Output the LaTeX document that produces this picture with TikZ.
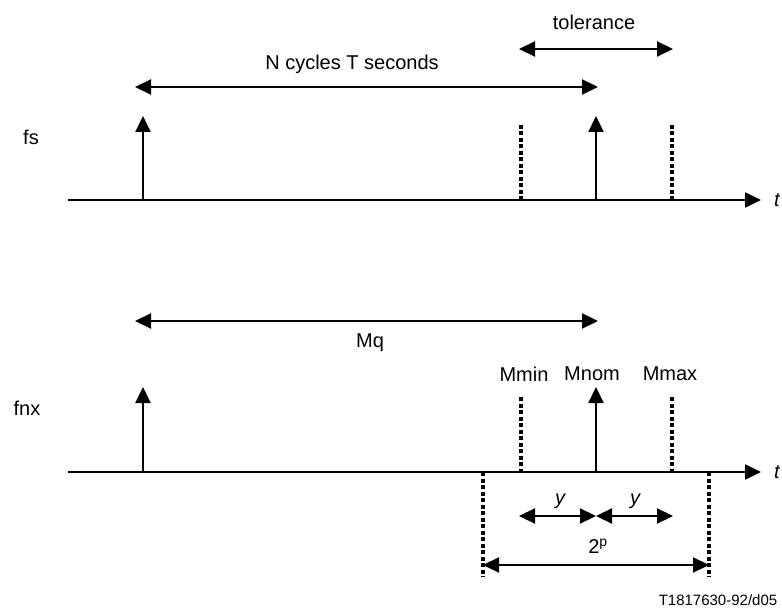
\documentclass[tikz,border=0pt]{standalone}
\usepackage{fontspec}
\setmainfont{Liberation Sans}
\usetikzlibrary{arrows.meta}
\begin{document}
\begin{tikzpicture}[x=1pt, y=-1pt,
    every node/.style = {font=\fontsize{20}{24}\selectfont, inner sep=0pt},
    line/.style = {line width=2.2pt},
    tip/.style = {-{Triangle[length=16pt,width=15pt]}},
    both/.style = {{Triangle[length=16pt,width=15pt]}-{Triangle[length=16pt,width=15pt]}},
    dots/.style = {line width=3.5pt, dash pattern=on 4pt off 2.5pt}]
  \useasboundingbox (0,0) rectangle (782,612);
  % upper line: fs
  \node (fs) at (31,137) {fs};
  \coordinate (a0) at (68,200);
  \coordinate (a1) at (761,200);
  \node (t1) at (777,200) {\itshape t};
  \draw[line,tip] (a0) -- (a1);
  \draw[line,tip] (143,200) -- (143,116);
  \draw[line,tip] (596,200) -- (596,116);
  \draw[dots] (521,125) -- (521,200);
  \draw[dots] (672,125) -- (672,200);
  \coordinate (n0) at (135,87);
  \coordinate (n1) at (598,87);
  \draw[line,both] (n0) -- (n1);
  \node (ncyc) at (352,64) {N cycles T seconds};
  \coordinate (tol0) at (519,49);
  \coordinate (tol1) at (673,49);
  \draw[line,both] (tol0) -- (tol1);
  \node (tol) at (594,22) {tolerance};
  % lower line: fnx
  \node (fnx) at (27,408) {fnx};
  \coordinate (b0) at (68,472);
  \coordinate (b1) at (761,472);
  \node (t2) at (777,472) {\itshape t};
  \draw[line,tip] (b0) -- (b1);
  \draw[line,tip] (143,472) -- (143,387);
  \draw[line,tip] (596,472) -- (596,387);
  \draw[dots] (521,397) -- (521,472);
  \draw[dots] (672,397) -- (672,472);
  \draw[dots] (483,472) -- (483,577);
  \draw[dots] (709,472) -- (709,577);
  \coordinate (m0) at (135,321);
  \coordinate (m1) at (598,321);
  \draw[line,both] (m0) -- (m1);
  \node (mq) at (370,343) {Mq};
  \node (mmin) at (524,374) {Mmin};
  \node (mnom) at (592,374) {Mnom};
  \node (mmax) at (670,374) {Mmax};
  \coordinate (y0) at (519,516);
  \coordinate (y1) at (596,516);
  \coordinate (y2) at (673,516);
  \draw[line,both] (y0) -- (y1);
  \draw[line,both] (y1) -- (y2);
  \node (ya) at (560,501) {\itshape y};
  \node (yb) at (635,501) {\itshape y};
  \coordinate (p0) at (483,565);
  \coordinate (p1) at (709,565);
  \draw[line,both] (p0) -- (p1);
  \node (twop) at (598,546) {2\textsuperscript{p}};
  \node (ref) at (718,600) {\fontsize{15}{18}\selectfont T1817630-92/d05};
\end{tikzpicture}
\end{document}
